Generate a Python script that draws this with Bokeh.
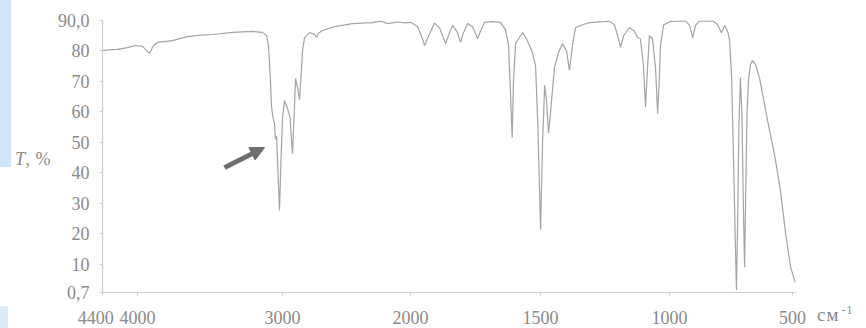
import numpy as np
from bokeh.plotting import figure
from bokeh.layouts import row
from bokeh.models import Range1d, FixedTicker, Arrow, NormalHead, ColumnDataSource, Div
from bokeh.embed import file_html
from bokeh.resources import INLINE

# ---- data (wavenumber, cm-1 ; transmittance, %) ----
wavenumber = [
    4400, 4229, 4114, 4023, 3966, 3917, 3890, 3862, 3759, 3655,
    3586, 3483, 3345, 3207, 3138, 3110, 3097, 3083, 3076, 3066,
    3055, 3048, 3041, 3031, 3021, 3010, 3000, 2984, 2969, 2953,
    2941, 2922, 2910, 2898, 2883, 2867, 2852, 2844, 2828, 2789,
    2750, 2734, 2719, 2688, 2594, 2453, 2300, 2230, 2180, 2100,
    2040, 2000, 1973, 1954, 1946, 1935, 1908, 1888, 1865, 1850,
    1838, 1819, 1808, 1796, 1781, 1762, 1742, 1731, 1715, 1685,
    1654, 1635, 1623, 1615, 1609, 1604, 1596, 1581, 1569, 1554,
    1538, 1531, 1519, 1510, 1500, 1492, 1484, 1477, 1469, 1461,
    1446, 1430, 1415, 1399, 1388, 1376, 1364, 1337, 1310, 1260,
    1233, 1213, 1198, 1190, 1178, 1155, 1136, 1124, 1113, 1101,
    1093, 1085, 1078, 1066, 1054, 1046, 1039, 1035, 1023, 1000,
    976, 935, 919, 906, 894, 878, 825, 805, 789, 776,
    764, 756, 748, 740, 732, 728, 724, 718, 712, 706,
    700, 695, 691, 685, 679, 671, 663, 650, 634, 622,
    601, 581, 569, 549, 528, 508, 488,
]
transmittance = [
    80.2, 80.5, 81.1, 81.8, 81.5, 79.2, 81.8, 82.8, 83.4, 84.7,
    85.1, 85.4, 86.1, 86.4, 86.1, 85.1, 81.8, 70.0, 62.0, 58.0,
    56.0, 51.0, 52.0, 40.0, 27.6, 45.0, 58.0, 63.7, 62.0, 60.0,
    58.0, 46.3, 58.0, 71.0, 68.0, 64.0, 74.0, 80.0, 84.4, 86.0,
    85.5, 84.4, 85.8, 86.7, 88.0, 89.0, 89.3, 89.8, 89.0, 89.5,
    89.2, 89.4, 88.0, 84.0, 81.8, 84.0, 89.2, 87.5, 82.4, 86.0,
    88.4, 86.0, 82.8, 86.0, 89.0, 88.0, 84.1, 86.5, 89.4, 89.6,
    89.4, 87.0, 82.0, 65.0, 51.6, 70.0, 82.4, 84.5, 86.0, 84.0,
    81.0, 79.5, 75.0, 55.0, 21.3, 50.0, 68.7, 64.0, 53.0, 60.0,
    74.6, 79.5, 82.4, 80.0, 73.6, 82.0, 87.7, 88.6, 89.3, 89.6,
    89.8, 88.5, 84.0, 81.2, 85.0, 87.7, 86.5, 84.4, 84.0, 75.0,
    61.5, 75.0, 85.0, 84.0, 74.0, 59.5, 72.0, 82.0, 88.5, 89.6,
    89.8, 89.9, 88.5, 84.4, 88.5, 89.8, 89.9, 88.7, 86.0, 88.4,
    86.5, 83.5, 72.0, 45.0, 15.0, 1.5, 20.0, 55.0, 71.3, 60.0,
    30.0, 9.0, 30.0, 60.0, 70.5, 75.5, 76.9, 75.5, 71.0, 66.0,
    57.0, 49.0, 44.0, 34.0, 20.0, 9.0, 3.8,
]
assert len(wavenumber) == len(transmittance)

x_tick_values = [4400, 4000, 3000, 2000, 1500, 1000, 500]
x_tick_labels = ["4400\u00a0\u00a0\u00a0", "4000", "3000", "2000", "1500", "1000", "500"]
y_tick_values = [0.7, 10, 20, 30, 40, 50, 60, 70, 80, 90]
y_tick_labels = ["0,7", "10", "20", "30", "40", "50", "60", "70", "80", "90,0"]
y_title_html = "<i>T</i>, %"
x_unit_html = "см<sup style='font-size:12px;margin-left:2px'>-1</sup>"

arrow_wn = [3400, 3124]   # tail, head
arrow_t = [41.7, 48.3]

# ---- piecewise-linear wavenumber scale of the printed chart ----
scale_wn = np.array([4400, 4000, 3000, 2000, 1500, 1000, 500, 400], float)
scale_pos = np.array([0, 35, 180, 308, 438, 567, 690, 714.6], float)


def to_axis(w):
    w = np.asarray(w, dtype=float)
    return np.interp(-w, -scale_wn, scale_pos)


FONT = "Liberation Serif"
TXT = "#8a8a8a"
AX = "#cdcdcd"

p = figure(frame_width=693, frame_height=272,
           x_range=Range1d(0, float(to_axis(488))), y_range=Range1d(0.7, 90),
           output_backend="svg", toolbar_location=None,
           min_border_left=46, min_border_right=20,
           min_border_top=20, min_border_bottom=36, margin=0)
p.outline_line_color = None
p.xgrid.grid_line_color = None
p.ygrid.grid_line_color = None
p.background_fill_color = "white"
p.border_fill_color = "white"

src = ColumnDataSource(dict(x=to_axis(wavenumber), t=transmittance))
p.line("x", "t", source=src, line_color="#a4a4a4", line_width=1.2)

xpos = [int(round(v)) for v in to_axis(x_tick_values)]
p.xaxis.ticker = FixedTicker(ticks=xpos)
p.xaxis.major_label_overrides = {k: lab for k, lab in zip(xpos, x_tick_labels)}
p.yaxis.ticker = FixedTicker(ticks=y_tick_values)
p.yaxis.major_label_overrides = {k: lab for k, lab in zip(y_tick_values, y_tick_labels)}

for ax in (p.xaxis, p.yaxis):
    ax.axis_line_color = AX
    ax.axis_line_width = 1.2
    ax.major_tick_line_color = AX
    ax.major_tick_out = 3
    ax.major_tick_in = 0
    ax.minor_tick_line_color = None
    ax.major_label_text_font = FONT
    ax.major_label_text_font_size = "18px"
    ax.major_label_text_color = TXT
p.xaxis.major_label_standoff = 12
p.yaxis.major_label_standoff = 10

# arrow
ax_x = to_axis(arrow_wn)
p.add_layout(Arrow(x_start=float(ax_x[0]), y_start=arrow_t[0],
                   x_end=float(ax_x[1]), y_end=arrow_t[1],
                   line_color="#6e6e6e", line_width=5,
                   end=NormalHead(size=14, fill_color="#6e6e6e", line_color="#6e6e6e")))

text_css = f"font-family:'{FONT}';color:{TXT};white-space:nowrap;"

left_div = Div(width=54, height=328, margin=0, text=(
    "<div style='position:relative;width:54px;height:328px;'>"
    "<div style='position:absolute;left:0;top:0;width:11px;height:167px;background:#cfe5f8;'></div>"
    "<div style='position:absolute;left:0;top:306px;width:8px;height:22px;background:#dcecf9;'></div>"
    f"<span style=\"position:absolute;left:15px;top:147px;font-size:18px;letter-spacing:0.5px;{text_css}\">{y_title_html}</span>"
    "</div>"))

right_div = Div(width=53, height=328, margin=0, text=(
    "<div style='position:relative;width:53px;height:328px;'>"
    f"<span style=\"position:absolute;left:2px;top:301px;font-size:19px;letter-spacing:1px;{text_css}\">{x_unit_html}</span>"
    "</div>"))

layout = row(left_div, p, right_div, spacing=0, margin=0)

open("out.html", "w").write(file_html(layout, INLINE))
